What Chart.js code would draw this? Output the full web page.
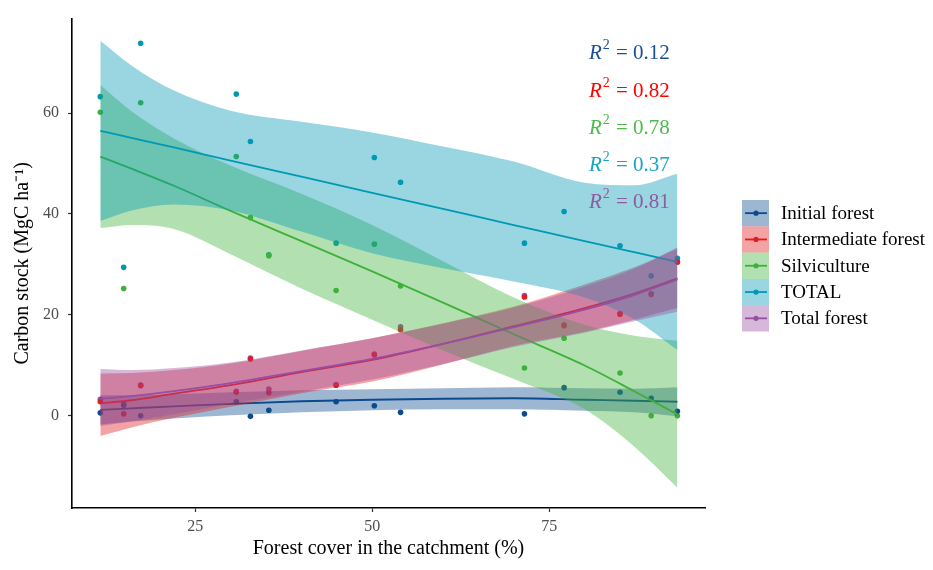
<!DOCTYPE html>
<html>
<head>
<meta charset="utf-8">
<script src="https://cdn.jsdelivr.net/npm/chart.js@4.4.0/dist/chart.umd.min.js"></script>
<style>
html, body { margin: 0; padding: 0; background: #ffffff; }
</style>
</head>
<body>
<canvas id="carbon_chart" width="933" height="570"></canvas>
<script>
// forest cover of each sampled catchment (%)
const forest_cover = [11.6, 14.9, 17.3, 30.8, 32.8, 35.4, 44.9, 50.3, 54.0, 71.5, 77.1, 85.0, 89.4, 93.1];
// carbon stock per catchment (MgC/ha)
const initial_forest = [0.5, 2.0, -0.1, 2.7, -0.2, 1.0, 2.7, 1.9, 0.6, 0.3, 5.5, 4.6, 3.4, 0.8];
const intermediate_forest = [2.7, 0.3, 6.0, 4.6, 11.2, 4.5, 6.0, 12.0, 17.0, 23.5, 17.8, 20.1, 24.0, 30.4];
const silviculture = [60.2, 25.2, 62.1, 51.4, 39.3, 31.7, 24.8, 34.0, 25.7, 9.4, 15.3, 8.4, -0.1, -0.1];
const total = [63.3, 29.4, 73.9, 63.8, 54.4, 31.9, 34.2, 51.2, 46.3, 34.2, 40.5, 33.7, 27.7, 31.2];
const total_forest = [3.2, 2.3, 5.9, 4.8, 11.4, 5.2, 6.1, 12.2, 17.6, 23.8, 18.0, 20.2, 24.2, 30.6];

// smoothed fits and confidence bands at these x
const fit_x = [11.6, 16, 22, 30, 40, 50, 60, 70, 80, 87, 93.1];
const initial_fit = [1.1, 1.4, 1.8, 2.3, 2.8, 3.1, 3.3, 3.4, 3.1, 2.9, 2.7];
const initial_hi = [4.0, 4.0, 4.2, 4.6, 5.0, 5.2, 5.4, 5.6, 5.4, 5.3, 5.6];
const initial_lo = [-1.8, -1.2, -0.6, 0.0, 0.6, 1.0, 1.2, 1.2, 0.9, 0.6, -0.2];
const intermediate_fit = [2.4, 3.0, 4.3, 6.0, 8.6, 11.0, 14.2, 17.7, 21.3, 24.2, 27.2];
const intermediate_hi = [8.3, 8.4, 9.0, 10.3, 12.8, 15.3, 18.3, 21.6, 26.0, 29.4, 33.1];
const intermediate_lo = [-4.1, -2.4, -0.5, 1.7, 4.4, 6.7, 10.1, 13.8, 16.6, 19.0, 21.3];
const silviculture_fit = [51.4, 49.0, 45.6, 40.6, 34.6, 28.6, 22.4, 16.1, 9.9, 4.8, 0.2];
const silviculture_hi = [65.6, 60.4, 55.0, 49.6, 44.0, 37.8, 30.6, 23.4, 18.0, 15.8, 14.8];
const silviculture_lo = [37.2, 37.8, 37.0, 32.0, 25.2, 19.0, 12.9, 7.2, 1.2, -6.2, -14.4];
const total_fit = [56.5, 55.1, 53.2, 50.6, 47.4, 44.2, 41.0, 37.8, 34.6, 32.4, 30.5];
const total_hi = [74.4, 69.5, 64.5, 60.5, 58.3, 56.2, 53.4, 50.4, 46.2, 45.7, 48.0];
const total_lo = [38.6, 40.7, 41.9, 40.7, 36.5, 32.2, 29.2, 26.6, 23.4, 19.1, 13.0];
const total_forest_fit = [3.3, 3.8, 4.8, 6.4, 8.8, 11.2, 14.2, 17.5, 21.0, 23.9, 27.0];
const total_forest_hi = [9.2, 9.0, 9.4, 10.5, 12.9, 15.3, 18.2, 21.4, 25.6, 29.1, 33.4];
const total_forest_lo = [-2.1, -1.2, 0.2, 2.3, 4.7, 7.1, 10.2, 13.6, 16.4, 18.7, 20.6];

const x_ticks = [25, 50, 75];
const y_ticks = [0, 20, 40, 60];
const series_names = ["Initial forest", "Intermediate forest", "Silviculture", "TOTAL", "Total forest"];
const r2_labels = ["0.12", "0.82", "0.78", "0.37", "0.81"];

const series_colors = ["#0b4a8f", "#e41a1c", "#3fb13a", "#0099b4", "#984ea3"];
const r2_colors = ["#1b4f93", "#ff0000", "#4cbb4c", "#19a4c4", "#8e5aa0"];
const serif = '"Liberation Serif", "Times New Roman", serif';

function fade(hex, alpha) {
    let r = parseInt(hex.slice(1, 3), 16);
    let g = parseInt(hex.slice(3, 5), 16);
    let b = parseInt(hex.slice(5, 7), 16);
    return `rgba(${r},${g},${b},${alpha})`;
}

function to_points(xs, ys) {
    return xs.map((x, i) => ({ x: x, y: ys[i] }));
}

function make_points(ys, color) {
    return {
        data: to_points(forest_cover, ys),
        showLine: false,
        pointRadius: 2.8,
        pointBackgroundColor: color,
        pointBorderWidth: 0,
        order: 20
    };
}

// upper edge fills down to the lower edge (next dataset), then the fit line on top
function make_smooth(hi, fit, lo, color, order) {
    return [
        {
            data: to_points(fit_x, hi),
            borderColor: "rgba(0,0,0,0)",
            borderWidth: 0,
            pointRadius: 0,
            fill: "+1",
            backgroundColor: fade(color, 0.4),
            cubicInterpolationMode: "monotone",
            order: order
        },
        {
            data: to_points(fit_x, lo),
            borderColor: "rgba(0,0,0,0)",
            borderWidth: 0,
            pointRadius: 0,
            fill: false,
            cubicInterpolationMode: "monotone",
            order: order
        },
        {
            data: to_points(fit_x, fit),
            borderColor: color,
            borderWidth: 1.8,
            pointRadius: 0,
            fill: false,
            cubicInterpolationMode: "monotone",
            order: order - 1
        }
    ];
}

const side_legend = {
    id: "side_legend",
    afterDraw(chart) {
        const ctx = chart.ctx;
        ctx.save();
        // legend keys
        for (let i = 0; i < series_names.length; i++) {
            let top = 200 + i * 26.3;
            let mid = top + 13.15;
            ctx.fillStyle = fade(series_colors[i], 0.4);
            ctx.fillRect(742, top, 27, 26.3);
            ctx.strokeStyle = series_colors[i];
            ctx.lineWidth = 1.8;
            ctx.beginPath();
            ctx.moveTo(745, mid);
            ctx.lineTo(767, mid);
            ctx.stroke();
            ctx.fillStyle = series_colors[i];
            ctx.beginPath();
            ctx.arc(756, mid, 2.6, 0, Math.PI * 2);
            ctx.fill();
            ctx.fillStyle = "#000000";
            ctx.font = "19px " + serif;
            ctx.textBaseline = "middle";
            ctx.textAlign = "left";
            ctx.fillText(series_names[i], 781, mid + 1);
        }
        // R squared labels
        ctx.textBaseline = "alphabetic";
        for (let i = 0; i < r2_labels.length; i++) {
            let base = 59.3 + i * 37.2;
            ctx.fillStyle = r2_colors[i];
            ctx.font = "italic 21px " + serif;
            ctx.fillText("R", 589, base);
            let w = ctx.measureText("R").width;
            ctx.font = "14px " + serif;
            ctx.fillText("2", 589 + w + 1, base - 10);
            ctx.font = "21px " + serif;
            ctx.fillText("= " + r2_labels[i], 616, base);
        }
        ctx.restore();
    }
};

var datasets = [
    make_points(initial_forest, series_colors[0]),
    make_points(intermediate_forest, series_colors[1]),
    make_points(silviculture, series_colors[2]),
    make_points(total, series_colors[3]),
    make_points(total_forest, series_colors[4])
];
datasets = datasets.concat(
    make_smooth(initial_hi, initial_fit, initial_lo, series_colors[0], 16),
    make_smooth(intermediate_hi, intermediate_fit, intermediate_lo, series_colors[1], 14),
    make_smooth(silviculture_hi, silviculture_fit, silviculture_lo, series_colors[2], 12),
    make_smooth(total_hi, total_fit, total_lo, series_colors[3], 10),
    make_smooth(total_forest_hi, total_forest_fit, total_forest_lo, series_colors[4], 8)
);

var carbonChart = new Chart(
    document.getElementById("carbon_chart"),
    {
        type: "line",
        data: { datasets: datasets },
        plugins: [side_legend],
        options: {
            responsive: false,
            animation: false,
            layout: { padding: { top: 10, right: 228, left: 0, bottom: 0 } },
            plugins: {
                legend: { display: false },
                tooltip: { enabled: false }
            },
            scales: {
                x: {
                    type: "linear",
                    min: 7.6,
                    max: 97,
                    afterBuildTicks: (axis) => { axis.ticks = x_ticks.map((v) => ({ value: v })); },
                    afterFit: (axis) => { axis.height = 62; },
                    grid: { drawOnChartArea: false, drawTicks: true, tickLength: 4, color: "#333333", tickWidth: 1.2 },
                    border: { display: true, color: "#000000", width: 1.6 },
                    ticks: { color: "#4d4d4d", font: { family: serif, size: 16 }, padding: 5, maxRotation: 0 },
                    title: {
                        display: true,
                        text: "Forest cover in the catchment (%)",
                        color: "#000000",
                        font: { family: serif, size: 20 },
                        padding: { top: 0, bottom: 9 }
                    }
                },
                y: {
                    type: "linear",
                    min: -18.4,
                    max: 78.8,
                    afterBuildTicks: (axis) => { axis.ticks = y_ticks.map((v) => ({ value: v })); },
                    afterFit: (axis) => { axis.width = 72; },
                    grid: { drawOnChartArea: false, drawTicks: true, tickLength: 4, color: "#333333", tickWidth: 1.2 },
                    border: { display: true, color: "#000000", width: 1.6 },
                    ticks: { color: "#4d4d4d", font: { family: serif, size: 16 }, padding: 9 },
                    title: {
                        display: true,
                        text: "Carbon stock (MgC ha\u207B\u00B9)",
                        color: "#000000",
                        font: { family: serif, size: 20 },
                        padding: { top: 11, bottom: 0 }
                    }
                }
            }
        }
    }
);
</script>
</body>
</html>
